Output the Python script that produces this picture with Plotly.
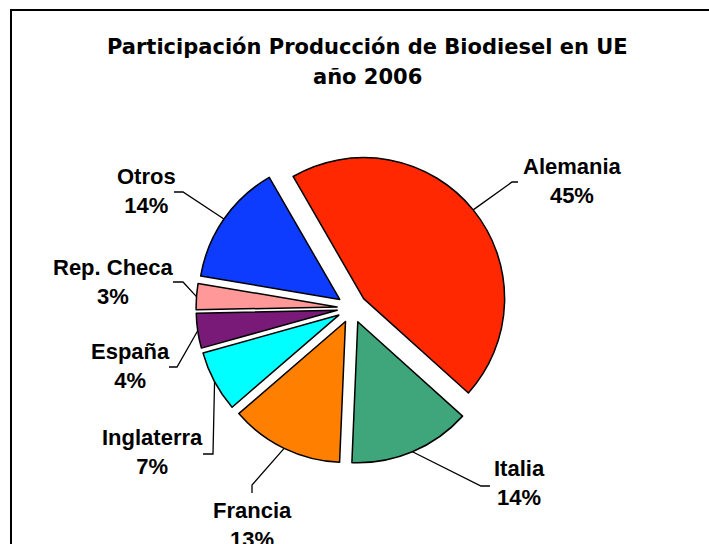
import math
import plotly.graph_objects as go

# ---- data ----
countries = ["Alemania", "Italia", "Francia", "Inglaterra", "España", "Rep. Checa", "Otros"]
shares = [45, 14, 13, 7, 4, 3, 14]
colors = ["#FF2800", "#3FA67B", "#FF8000", "#00FFFF", "#7A1A78", "#FF9999", "#0D3CFF"]
title_lines = ["Participación Producción de Biodiesel en UE", "año 2006"]

# ---- layout / style (pixels) ----
W, H = 709, 544
CX, CY, R, PULL, ROT = 352, 308, 141, 0.106, -30
LABEL_FONT = "Liberation Sans, Arial, sans-serif"
TITLE_FONT = "DejaVu Sans, Arial, sans-serif"

label_pos = {
    "Alemania": (572, 181),
    "Italia": (519, 483),
    "Francia": (252, 525),
    "Inglaterra": (152, 452),
    "España": (130, 366),
    "Rep. Checa": (113, 282),
    "Otros": (146, 191),
}
leader_pts = {
    "Alemania": [(512, 182), (518, 182)],
    "Italia": [(481, 486), (490, 486)],
    "Francia": [(252, 485), (252, 493)],
    "Inglaterra": [(213, 454), (203, 454)],
    "España": [(177, 367), (169, 367)],
    "Rep. Checa": [(183, 282), (173, 282)],
    "Otros": [(183, 192), (174, 192)],
}


def px(x):
    return x / W


def py(y):
    return 1 - y / H


half = R * (1 + PULL)
fig = go.Figure(
    go.Pie(
        labels=countries,
        values=shares,
        sort=False,
        direction="clockwise",
        rotation=ROT,
        pull=[PULL] * len(shares),
        marker=dict(colors=colors, line=dict(color="black", width=1.5)),
        textinfo="none",
        hoverinfo="skip",
        showlegend=False,
        domain=dict(x=[px(CX - half), px(CX + half)], y=[py(CY + half), py(CY - half)]),
    )
)

total = sum(shares)
cum = 0
shapes = []
annotations = []
for name, v in zip(countries, shares):
    a = math.radians(ROT + 360 * (cum + v / 2) / total)
    cum += v
    ax = CX + R * (1 + PULL) * math.sin(a)
    ay = CY - R * (1 + PULL) * math.cos(a)
    pts = [(ax, ay)] + leader_pts[name]
    path = "M " + " L ".join(f"{px(x):.5f},{py(y):.5f}" for x, y in pts)
    shapes.append(dict(type="path", xref="paper", yref="paper", path=path,
                       line=dict(color="black", width=1.3)))
    lx, ly = label_pos[name]
    pct = round(v / total * 100)
    annotations.append(dict(
        x=px(lx), y=py(ly), xref="paper", yref="paper", showarrow=False,
        text=f"{name}<br>{pct}%", align="center", xanchor="center", yanchor="middle",
        font=dict(family=LABEL_FONT, size=22, color="black", weight="bold"),
    ))

# title lines
for txt, ty in zip(title_lines, (47, 77)):
    annotations.append(dict(
        x=px(367), y=py(ty), xref="paper", yref="paper", showarrow=False,
        text=txt, xanchor="center", yanchor="middle",
        font=dict(family=TITLE_FONT, size=21, color="black", weight="bold"),
    ))

# chart-area border
shapes.append(dict(type="rect", xref="paper", yref="paper",
                   x0=px(11), y0=py(H + 20), x1=px(W + 20), y1=py(10),
                   line=dict(color="black", width=2), fillcolor="rgba(0,0,0,0)"))

fig.update_layout(
    width=W, height=H,
    margin=dict(l=0, r=0, t=0, b=0),
    paper_bgcolor="white", plot_bgcolor="white",
    shapes=shapes, annotations=annotations,
)
fig.write_html("out.html", config={"displayModeBar": False},
               post_script="document.body.style.margin='0px';")
